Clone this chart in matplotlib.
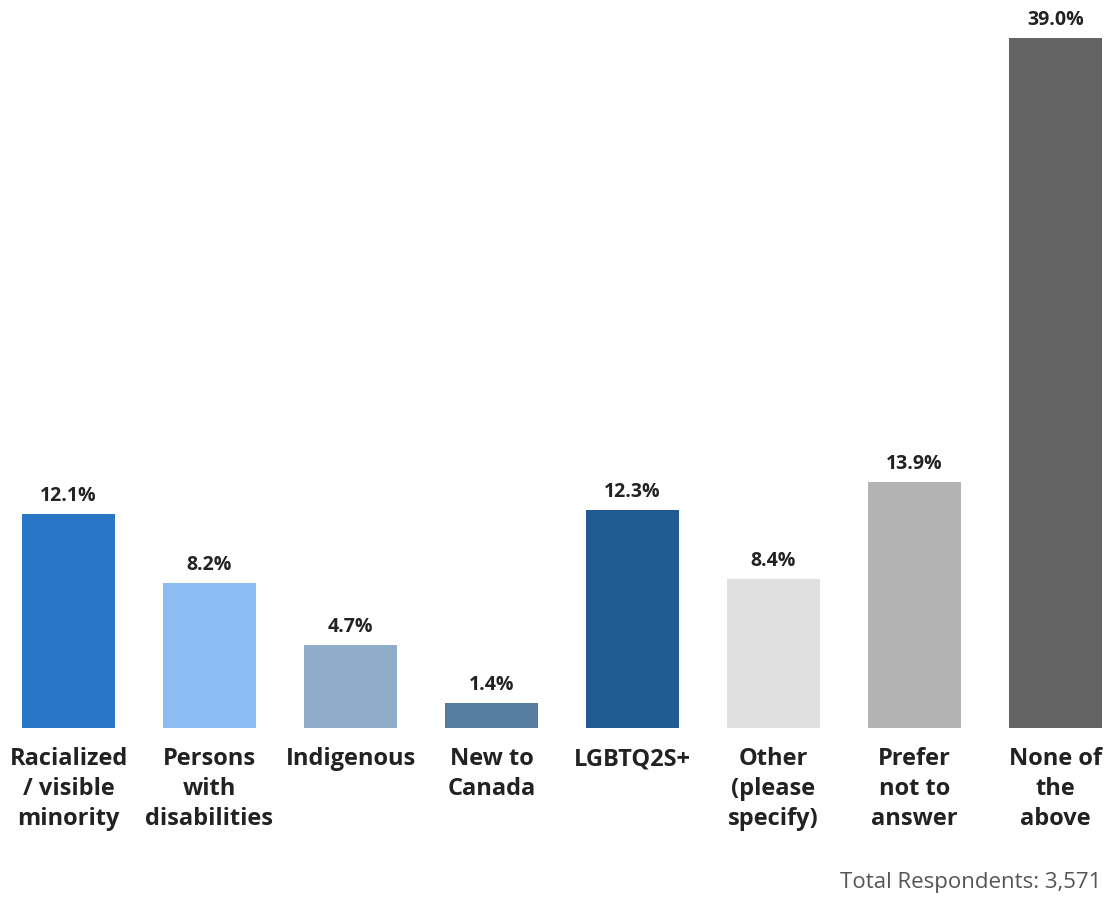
import numpy as np
import matplotlib.pyplot as plt

categories = ["Racialized\n/ visible\nminority", "Persons\nwith\ndisabilities", "Indigenous",
              "New to\nCanada", "LGBTQ2S+", "Other\n(please\nspecify)", "Prefer\nnot to\nanswer",
              "None of\nthe\nabove"]
values = [12.1, 8.2, 4.7, 1.4, 12.3, 8.4, 13.9, 39.0]
colors = ["#2877c6", "#8bbdf2", "#8fadc9", "#567c9f", "#215b93", "#e0e0e0", "#b3b3b3", "#636363"]
note = "Total Respondents: 3,571"

plt.rcParams['font.family'] = ['Open Sans', 'DejaVu Sans']

fig = plt.figure(figsize=(11.1, 8.97), dpi=100)
ax = fig.add_axes([0, 169/897, 1, 728/897])

x = np.arange(len(values))
ax.bar(x, values, width=0.66, color=colors)
ax.set_xlim(-68.5/141, 7 + 54.5/141)
ax.set_ylim(0, 728/17.69)

for xi, v in zip(x, values):
    ax.annotate("{:.1f}%".format(v), (xi, v), xytext=(0, 6), textcoords="offset points",
                ha="center", va="bottom", fontsize=14, fontweight="bold", color="#222222")

ax.set_xticks(x)
ax.set_xticklabels(categories, fontsize=17, fontweight="bold", color="#222222", linespacing=1.32)
ax.tick_params(axis="x", length=0, pad=14)
ax.set_yticks([])
for s in ax.spines.values():
    s.set_visible(False)

fig.text(1101/1110, 1 - 882/897, note, ha="right", va="center", fontsize=16, color="#555555")

fig.savefig("out.png", dpi=100)
